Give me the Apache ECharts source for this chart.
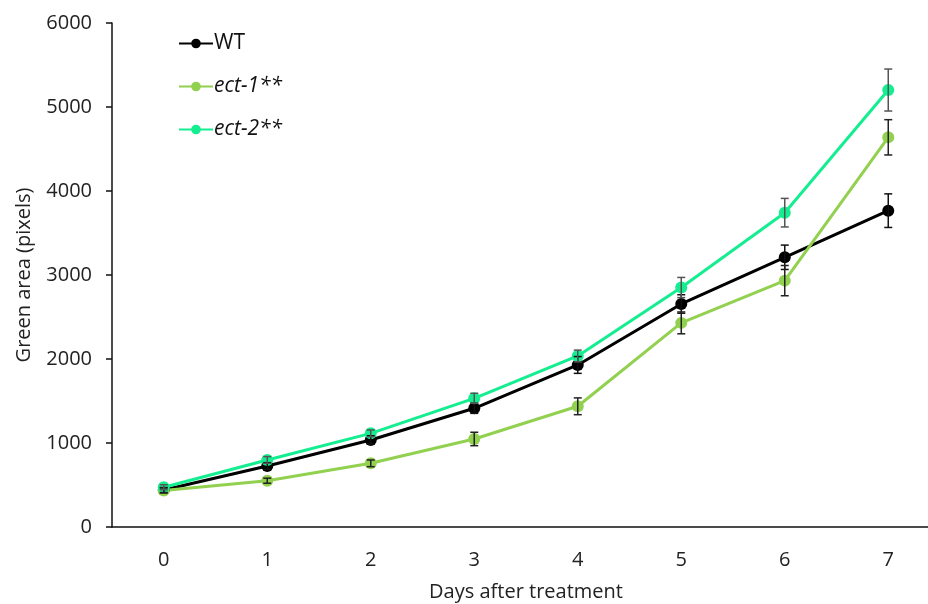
<!DOCTYPE html>
<html>
<head>
<meta charset="utf-8">
<script src="https://cdn.jsdelivr.net/npm/echarts@6/dist/echarts.min.js"></script>
<style>
  html, body { margin: 0; padding: 0; background: #fff; }
  #chart { width: 928px; height: 604px; }
</style>
</head>
<body>
<div id="chart"></div>
<script>
// days after treatment
let days = ['0', '1', '2', '3', '4', '5', '6', '7'];

// green area (pixels)
let wt = [440, 726, 1036, 1413, 1929, 2655, 3211, 3766];
let wtErr = [30, 40, 50, 60, 100, 110, 145, 200];
let ect1 = [435, 551, 758, 1048, 1437, 2430, 2933, 4639];
let ect1Err = [30, 30, 40, 80, 100, 130, 180, 210];
let ect2 = [473, 798, 1115, 1532, 2036, 2851, 3742, 5202];
let ect2Err = [30, 40, 40, 60, 70, 120, 170, 250];

let yTicks = [0, 1000, 2000, 3000, 4000, 5000, 6000];

let font = '"Open Sans", sans-serif';

function lineSeries(name, values, color) {
    return {
        name: name,
        type: 'line',
        data: values,
        symbol: 'circle',
        symbolSize: 12,
        z: 2,
        lineStyle: {color: color, width: 3},
        itemStyle: {color: color}
    };
}

function errorSeries(values, errs, color) {
    return {
        type: 'custom',
        z: 3,
        silent: true,
        data: values.map((v, i) => [i, v - errs[i], v + errs[i]]),
        renderItem: function(params, api) {
            let lo = api.coord([api.value(0), api.value(1)]);
            let hi = api.coord([api.value(0), api.value(2)]);
            let x = lo[0], cap = 4;
            let style = {stroke: color, lineWidth: 1.5};
            return {
                type: 'group',
                children: [
                    {type: 'line', shape: {x1: x, y1: lo[1], x2: x, y2: hi[1]}, style: style},
                    {type: 'line', shape: {x1: x - cap, y1: lo[1], x2: x + cap, y2: lo[1]}, style: style},
                    {type: 'line', shape: {x1: x - cap, y1: hi[1], x2: x + cap, y2: hi[1]}, style: style}
                ]
            };
        }
    };
}

let chart = echarts.init(document.getElementById('chart'));

chart.setOption({
    animation: false,
    textStyle: {fontFamily: font},
    grid: {left: 112, top: 23, width: 828, height: 504, outerBoundsMode: 'none', containLabel: false},
    legend: {
        orient: 'vertical',
        left: 173,
        top: 28,
        itemWidth: 34,
        itemHeight: 12,
        itemGap: 22,
        data: ['WT', 'ect-1**', 'ect-2**'],
        formatter: name => name === 'WT' ? name : '{i|' + name + '}',
        textStyle: {
            fontFamily: font, fontSize: 21, color: '#111', padding: [0, 0, 0, -4],
            rich: {i: {fontFamily: font, fontSize: 21, fontStyle: 'italic', color: '#111'}}
        }
    },
    xAxis: {
        type: 'category',
        data: days,
        boundaryGap: true,
        name: 'Days after treatment',
        nameLocation: 'middle',
        nameGap: 55,
        nameTextStyle: {fontFamily: font, fontSize: 20, color: '#222'},
        axisLine: {lineStyle: {color: '#111', width: 1.5}},
        axisTick: {alignWithLabel: true, length: 5, lineStyle: {color: '#111', width: 1.5}},
        axisLabel: {margin: 23, fontFamily: font, fontSize: 20, color: '#222'}
    },
    yAxis: {
        type: 'value',
        min: yTicks[0],
        max: yTicks[yTicks.length - 1],
        interval: 1000,
        name: 'Green area (pixels)',
        nameLocation: 'middle',
        nameRotate: 90,
        nameGap: 78,
        nameTextStyle: {fontFamily: font, fontSize: 20, color: '#222'},
        axisLine: {show: true, lineStyle: {color: '#111', width: 1.5}},
        axisTick: {show: true, length: 6, lineStyle: {color: '#111', width: 1.5}},
        axisLabel: {margin: 20, fontFamily: font, fontSize: 20, color: '#222', formatter: v => String(v)},
        splitLine: {show: false}
    },
    series: [
        lineSeries('WT', wt, '#000000'),
        lineSeries('ect-1**', ect1, '#92d050'),
        lineSeries('ect-2**', ect2, '#14ee90'),
        errorSeries(wt, wtErr, '#111'),
        errorSeries(ect1, ect1Err, '#222'),
        errorSeries(ect2, ect2Err, '#555')
    ]
});
</script>
</body>
</html>
